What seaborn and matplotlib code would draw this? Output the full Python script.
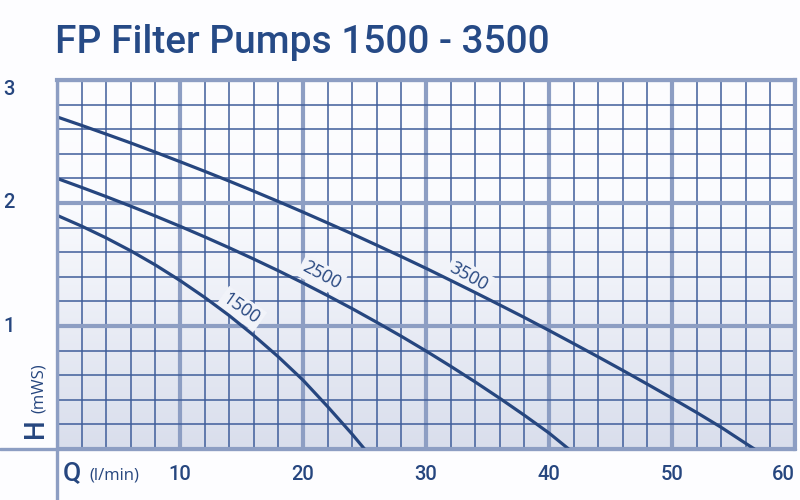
import numpy as np
import pandas as pd
import matplotlib
matplotlib.use("Agg")
import matplotlib.pyplot as plt
from matplotlib.lines import Line2D
from matplotlib.colors import LinearSegmentedColormap
import seaborn as sns

# ---- data ----
q_1500 = [0, 2, 4, 6, 8, 10, 12, 14, 16, 18, 20, 22, 24, 25]
h_1500 = [1.900, 1.812, 1.716, 1.611, 1.496, 1.370, 1.233, 1.085, 0.923, 0.749, 0.560,
          0.345, 0.120, 0.0]

q_2500 = [0, 2, 4, 6, 8, 10, 12, 14, 16, 18, 20, 22, 24, 26, 28, 30, 32, 34, 36, 38, 40, 41.6]
h_2500 = [2.200, 2.127, 2.052, 1.974, 1.894, 1.811, 1.725, 1.636, 1.544, 1.449, 1.350, 1.247,
          1.141, 1.030, 0.916, 0.797, 0.673, 0.545, 0.412, 0.274, 0.130, 0.0]

q_3500 = [0, 2, 4, 6, 8, 10, 12, 14, 16, 18, 20, 22, 24, 26, 28, 30, 32, 34, 36, 38, 40,
          42, 44, 46, 48, 50, 52, 54, 56, 56.7]
h_3500 = [2.700, 2.631, 2.560, 2.488, 2.413, 2.336, 2.258, 2.178, 2.096, 2.012, 1.926, 1.838,
          1.749, 1.657, 1.564, 1.469, 1.371, 1.272, 1.171, 1.069, 0.964, 0.857, 0.749, 0.639,
          0.527, 0.413, 0.297, 0.176, 0.045, 0.0]

series_names = ["1500", "2500", "3500"]
label_pos = {"1500": (15.0, 1.14, -35), "2500": (21.5, 1.41, -28), "3500": (33.5, 1.40, -29)}

x_ticks = [10, 20, 30, 40, 50, 60]
y_ticks = [1, 2, 3]

title = "FP Filter Pumps 1500 - 3500"

df = pd.concat([
    pd.DataFrame({"Q": q_1500, "H": h_1500, "pump": "1500"}),
    pd.DataFrame({"Q": q_2500, "H": h_2500, "pump": "2500"}),
    pd.DataFrame({"Q": q_3500, "H": h_3500, "pump": "3500"}),
])

# ---- style ----
sns.set_style("white")
plt.rcParams["font.family"] = ["Roboto", "DejaVu Sans"]

DARK = "#26467f"
MAJOR = "#8d9ec3"
MINOR = "#3f5d9a"
BG = "#fdfdff"

fig = plt.figure(figsize=(8, 5), dpi=100, facecolor=BG)
ax = fig.add_axes([57 / 800, 1 - 449 / 500, 738 / 800, 369 / 500])

# gradient background
grad = np.linspace(0, 1, 256).reshape(-1, 1)
cmap = LinearSegmentedColormap.from_list("bg", ["#d9deec", "#e9ecf5", "#fafbfe", "#fdfdff"])
ax.imshow(grad, extent=[0, 60, 0, 3], origin="lower", aspect="auto", cmap=cmap, zorder=0)

sns.lineplot(data=df, x="Q", y="H", hue="pump", palette=[DARK] * 3, legend=False,
             linewidth=2.3, ax=ax, zorder=4, sort=False, estimator=None)

ax.set_xlim(0, 60)
ax.set_ylim(0, 3)
ax.set_xticks(np.arange(0, 61, 10))
ax.set_xticks(np.arange(0, 61, 2), minor=True)
ax.set_yticks(np.arange(0, 3.01, 1))
ax.set_yticks(np.arange(0, 3.01, 0.2), minor=True)
ax.set_axisbelow(True)
ax.grid(which="minor", color=MINOR, linewidth=1.1, zorder=1)
ax.grid(which="major", color=MAJOR, linewidth=3.0, zorder=1.5)
ax.tick_params(which="both", length=0, labelbottom=False, labelleft=False)
ax.set_xlabel("")
ax.set_ylabel("")
for s in ax.spines.values():
    s.set_color(MAJOR)
    s.set_linewidth(3)
ax.spines["bottom"].set_visible(False)
ax.spines["left"].set_visible(False)

# extended axis lines
fig.add_artist(Line2D([0, 795 / 800], [1 - 449 / 500] * 2, color=MAJOR, lw=2.4,
                      transform=fig.transFigure, zorder=5))
fig.add_artist(Line2D([57 / 800] * 2, [0, 1 - 80 / 500], color=MAJOR, lw=2.4,
                      transform=fig.transFigure, zorder=5))

# tick labels
xt = ax.get_xaxis_transform()
for v in x_ticks:
    ax.text(v, -16 / 369, str(v), transform=xt, ha="right" if v == 60 else "center",
            va="top", fontsize=14.5, fontweight="medium", color=DARK)
yt = ax.get_yaxis_transform()
for v in y_ticks:
    ax.text(-54 / 738, v, str(v), transform=yt, ha="left",
            va="top" if v == 3 else "center", fontsize=14.5, fontweight="medium", color=DARK)

# curve labels
for name in series_names:
    x, y, rot = label_pos[name]
    ax.text(x, y, name, rotation=rot, rotation_mode="anchor", ha="center", va="center",
            fontsize=13, color=DARK, family=["Open Sans", "DejaVu Sans"], zorder=3,
            bbox=dict(boxstyle="square,pad=0.15", facecolor="#f1f3f9", edgecolor="none"))

# axis titles
fig.text(63 / 800, 1 - 480 / 500, "Q", fontsize=19, fontweight="medium", color=DARK,
         ha="left", va="baseline")
fig.text(89 / 800, 1 - 480 / 500, "(l/min)", fontsize=12, color=DARK, ha="left", va="baseline",
         family=["Open Sans", "DejaVu Sans"])
fig.text(43 / 800, 1 - 438 / 500, "H", fontsize=20, fontweight="medium", color=DARK,
         rotation=90, rotation_mode="anchor", ha="left", va="baseline")
fig.text(43 / 800, 1 - 413 / 500, "(mWS)", fontsize=12, color=DARK, rotation=90,
         rotation_mode="anchor", ha="left", va="baseline", family=["Open Sans", "DejaVu Sans"])

# title
fig.text(55 / 800, 1 - 53 / 500, title, fontsize=28, fontweight="medium", color="#264a86",
         ha="left", va="baseline")

fig.savefig("out.png", dpi=100, facecolor=BG)
